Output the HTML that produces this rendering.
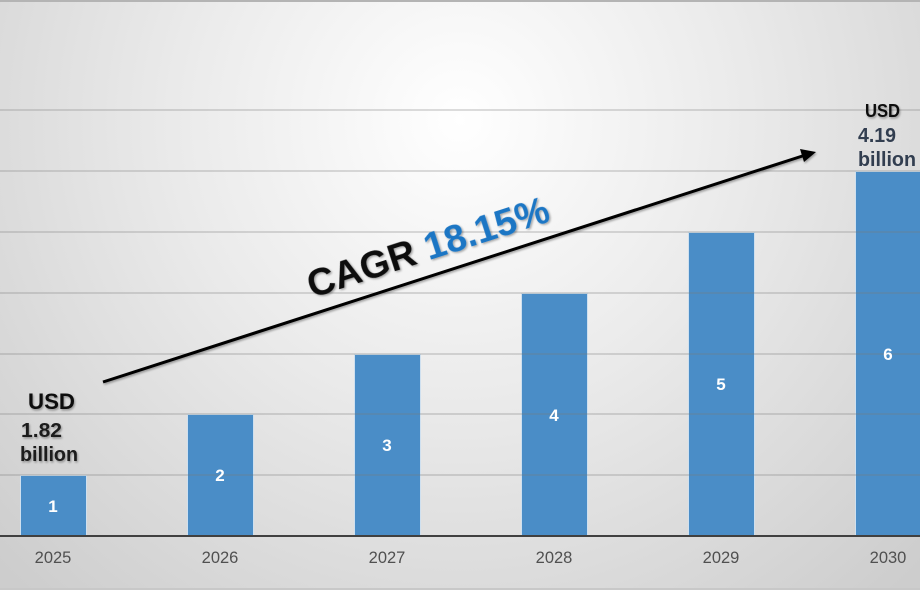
<!DOCTYPE html>
<html><head><meta charset="utf-8"><style>
html,body{margin:0;padding:0;background:#fff;}
svg{display:block;}
</style></head><body>
<svg width="920" height="590" viewBox="0 0 920 590" xmlns="http://www.w3.org/2000/svg" font-family="'Liberation Sans', 'DejaVu Sans', sans-serif">
<defs>
<radialGradient id="bg" cx="460" cy="120" r="640" gradientUnits="userSpaceOnUse">
<stop offset="0" stop-color="#ffffff"/>
<stop offset="0.45" stop-color="#eaeaea"/>
<stop offset="1" stop-color="#cdcdcd"/>
</radialGradient>
<filter id="sh" x="-20%" y="-20%" width="140%" height="140%">
<feGaussianBlur in="SourceAlpha" stdDeviation="1"/>
<feOffset dx="1" dy="1.5" result="o"/>
<feComponentTransfer><feFuncA type="linear" slope="0.35"/></feComponentTransfer>
<feMerge><feMergeNode/><feMergeNode in="SourceGraphic"/></feMerge>
</filter>
</defs>
<rect width="920" height="590" fill="url(#bg)"/>
<rect x="0" y="0" width="920" height="2" fill="#b4b4b4"/>
<rect x="0" y="588" width="920" height="2" fill="#c8c8c8"/>
<!-- bars -->
<g fill="#4a8dc7" stroke="#cfe0ef" stroke-width="1">
<rect x="20.5" y="475.5" width="66" height="61"/>
<rect x="187.5" y="414.5" width="66" height="122"/>
<rect x="354.5" y="354.5" width="66" height="182"/>
<rect x="521.5" y="293.5" width="66" height="243"/>
<rect x="688.5" y="232.5" width="66" height="304"/>
<rect x="855.5" y="171.5" width="70" height="365"/>
</g>
<!-- gridlines -->
<g stroke="#7a7a7a" stroke-opacity="0.35" stroke-width="1.5">
<line x1="0" y1="110" x2="920" y2="110"/>
<line x1="0" y1="171" x2="920" y2="171"/>
<line x1="0" y1="232" x2="920" y2="232"/>
<line x1="0" y1="293" x2="920" y2="293"/>
<line x1="0" y1="354" x2="920" y2="354"/>
<line x1="0" y1="414" x2="920" y2="414"/>
<line x1="0" y1="475" x2="920" y2="475"/>
</g>
<line x1="0" y1="536" x2="920" y2="536" stroke="#404040" stroke-width="2"/>
<!-- bar labels -->
<g fill="#ffffff" font-weight="bold" font-size="17" text-anchor="middle">
<text x="53" y="512">1</text>
<text x="220" y="481">2</text>
<text x="387" y="451">3</text>
<text x="554" y="421">4</text>
<text x="721" y="390">5</text>
<text x="888" y="360">6</text>
</g>
<!-- year labels -->
<g fill="#505050" font-size="16.5" text-anchor="middle">
<text x="53" y="563">2025</text>
<text x="220" y="563">2026</text>
<text x="387" y="563">2027</text>
<text x="554" y="563">2028</text>
<text x="721" y="563">2029</text>
<text x="888" y="563">2030</text>
</g>
<!-- arrow -->
<g filter="url(#sh)">
<line x1="103" y1="382" x2="804" y2="155.5" stroke="#000" stroke-width="3"/>
<polygon points="816,152 800,149 804,162" fill="#000"/>
</g>
<!-- CAGR text -->
<g transform="rotate(-17.9 312 298)" filter="url(#sh)">
<text x="312" y="298" font-size="38" font-weight="bold" textLength="252" lengthAdjust="spacingAndGlyphs"><tspan fill="#111">CAGR </tspan><tspan fill="#1a76c4">18.15%</tspan></text>
</g>
<!-- left label -->
<g font-weight="bold" filter="url(#sh)">
<text x="28" y="409" font-size="22" fill="#111" textLength="47" lengthAdjust="spacingAndGlyphs">USD</text>
<text x="21" y="437" font-size="20" fill="#1a1a1a" textLength="41" lengthAdjust="spacingAndGlyphs">1.82</text>
<text x="20" y="461" font-size="20" fill="#1a1a1a" textLength="58" lengthAdjust="spacingAndGlyphs">billion</text>
</g>
<!-- right label -->
<g font-weight="bold">
<text x="865" y="117" font-size="18" fill="#111" textLength="35" lengthAdjust="spacingAndGlyphs" filter="url(#sh)">USD</text>
<text x="858" y="142" font-size="20" fill="#323e50" textLength="38" lengthAdjust="spacingAndGlyphs">4.19</text>
<text x="858" y="166" font-size="20" fill="#323e50" textLength="58" lengthAdjust="spacingAndGlyphs">billion</text>
</g>
</svg>
</body></html>
